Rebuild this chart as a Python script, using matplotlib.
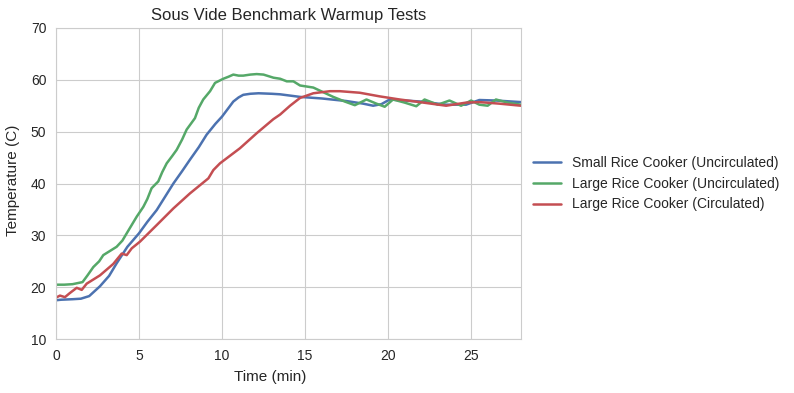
import matplotlib
matplotlib.use("Agg")
import matplotlib.pyplot as plt
import seaborn as sns

# readings taken off the logger (minutes, deg C)
small_t = [0, 0.3, 1.0, 1.5, 2.0, 2.65, 3.2, 3.65, 4.3, 5.0, 5.5, 6.07, 6.6, 7.07, 7.6, 8.07,
           8.6, 9.07, 9.6, 10.0, 10.4, 10.68, 11.0, 11.28, 11.7, 12.2, 13.0, 13.5, 14.7, 16.0,
           17.5, 18.5, 19.1, 19.6, 20.1, 21.0, 22.0, 23.5, 24.7, 25.5, 26.5, 28.0]
small_temp = [17.5, 17.6, 17.7, 17.8, 18.3, 20.2, 22.2, 24.6, 27.8, 30.4, 32.6, 34.9, 37.6, 40.0,
              42.4, 44.6, 47.0, 49.4, 51.5, 52.9, 54.6, 55.8, 56.6, 57.1, 57.3, 57.4, 57.3, 57.2,
              56.7, 56.4, 55.9, 55.4, 55.0, 55.3, 56.2, 56.0, 55.8, 55.2, 55.2, 56.1, 56.0, 55.7]

large_t = [0, 0.5, 1.0, 1.6, 1.9, 2.25, 2.6, 2.85, 3.2, 3.65, 4.0, 4.26, 4.56, 4.86, 5.26, 5.5,
           5.76, 6.16, 6.4, 6.67, 7.0, 7.27, 7.6, 7.87, 8.37, 8.6, 8.87, 9.28, 9.58, 10.08, 10.4,
           10.68, 11.0, 11.28, 11.7, 12.09, 12.5, 13.1, 13.5, 13.9, 14.3, 14.7, 15.5, 16.7, 17.4,
           18.0, 18.7, 19.3, 19.8, 20.3, 21.0, 21.7, 22.2, 23.0, 23.7, 24.4, 25.0, 25.5, 26.0,
           26.5, 27.2, 28.0]
large_temp = [20.5, 20.5, 20.6, 21.0, 22.3, 23.9, 25.0, 26.2, 26.9, 27.8, 29.0, 30.4, 32.0, 33.6,
              35.5, 37.0, 39.1, 40.4, 42.2, 43.9, 45.3, 46.5, 48.5, 50.4, 52.6, 54.6, 56.2, 57.8,
              59.4, 60.2, 60.6, 61.0, 60.8, 60.8, 61.0, 61.1, 61.0, 60.4, 60.2, 59.7, 59.7, 58.9,
              58.5, 56.7, 55.8, 55.1, 56.2, 55.4, 54.8, 56.2, 55.6, 54.9, 56.2, 55.2, 56.0, 55.0,
              56.0, 55.2, 55.0, 56.2, 55.6, 55.2]

circ_t = [0, 0.24, 0.54, 0.84, 1.25, 1.55, 1.85, 2.65, 3.45, 3.96, 4.26, 4.56, 5.06, 6.07, 7.07,
          8.07, 9.18, 9.48, 9.88, 11.08, 12.09, 13.09, 13.5, 14.1, 14.7, 15.5, 16.5, 17.1, 18.3,
          19.5, 20.7, 21.9, 23.5, 24.7, 25.5, 26.7, 28.0]
circ_temp = [18.0, 18.4, 18.1, 18.9, 19.9, 19.5, 20.7, 22.3, 24.5, 26.5, 26.2, 27.5, 28.8, 32.0,
             35.2, 38.1, 41.0, 42.6, 43.9, 46.8, 49.7, 52.4, 53.3, 55.0, 56.5, 57.4, 57.8, 57.8,
             57.5, 56.8, 56.2, 55.7, 55.0, 55.6, 55.7, 55.4, 55.0]

sns.set_style("whitegrid")
plt.rcParams['font.family'] = ['Liberation Sans', 'DejaVu Sans']

fig = plt.figure(figsize=(7.94, 3.93), dpi=100)
ax = fig.add_axes([0.0705, 0.137, 0.5855, 0.792])

ax.plot(small_t, small_temp, color='#4C72B0', lw=1.8, label='Small Rice Cooker (Uncirculated)')
ax.plot(large_t, large_temp, color='#55A868', lw=1.8, label='Large Rice Cooker (Uncirculated)')
ax.plot(circ_t, circ_temp, color='#C44E52', lw=1.8, label='Large Rice Cooker (Circulated)')

ax.set_xlim(0, 28)
ax.set_ylim(10, 70)
ax.set_xticks([0, 5, 10, 15, 20, 25])
ax.set_yticks([10, 20, 30, 40, 50, 60, 70])
ax.tick_params(labelsize=10)
ax.set_xlabel('Time (min)', fontsize=11)
ax.set_ylabel('Temperature (C)', fontsize=11)
# labels sit a bit off-centre in the original
ax.xaxis.set_label_coords(0.46, -0.1)
ax.yaxis.set_label_coords(-0.078, 0.51)
ax.set_title('Sous Vide Benchmark Warmup Tests', fontsize=12)
ax.legend(loc='center left', bbox_to_anchor=(1.0, 0.5), frameon=False, fontsize=10)

fig.savefig('out.png', dpi=100)
